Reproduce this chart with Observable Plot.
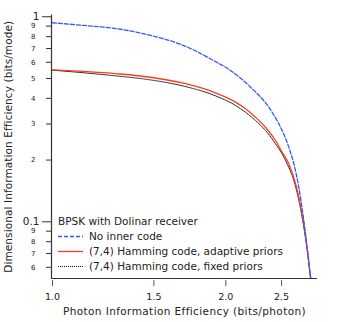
<!DOCTYPE html>
<html><head><meta charset="utf-8">
<script src="https://cdn.jsdelivr.net/npm/d3@7"></script>
<script src="https://cdn.jsdelivr.net/npm/@observablehq/plot@0.6"></script>
<style>body{margin:0;background:#fff} svg{display:block}</style>
</head><body><div id="chart"></div>
<script>
// Photon information efficiency (bits/photon) vs dimensional information efficiency (bits/mode)
const noCodeX   = [1.0, 1.133, 1.297, 1.48, 1.689, 1.904, 2.038, 2.208, 2.375, 2.472, 2.573, 2.625, 2.678, 2.732, 2.777, 2.807, 2.82];
const noCodeY   = [0.935, 0.907, 0.874, 0.811, 0.724, 0.612, 0.547, 0.4535, 0.3622, 0.3006, 0.2312, 0.1919, 0.1475, 0.1015, 0.0698, 0.0537, 0.05];
const adaptiveX = [1.0, 1.133, 1.296, 1.48, 1.689, 1.904, 2.079, 2.164, 2.252, 2.344, 2.44, 2.506, 2.573, 2.654, 2.726, 2.777, 2.807, 2.82];
const adaptiveY = [0.551, 0.541, 0.527, 0.507, 0.474, 0.429, 0.3833, 0.3557, 0.3237, 0.2893, 0.2492, 0.2185, 0.1919, 0.1475, 0.1015, 0.0698, 0.0537, 0.05];
const fixedX    = [1.0, 1.133, 1.296, 1.48, 1.689, 1.904, 2.079, 2.252, 2.344, 2.44, 2.54, 2.645, 2.72, 2.775, 2.807, 2.82];
const fixedY    = [0.549, 0.533, 0.514, 0.492, 0.459, 0.415, 0.3693, 0.3119, 0.2789, 0.2401, 0.1991, 0.1475, 0.1015, 0.0698, 0.0537, 0.05];

const xTicks = [1.0, 1.5, 2.0, 2.5];
const yMajorTicks = [1, 0.1];
const yMinorTicks = [0.9, 0.8, 0.7, 0.6, 0.5, 0.4, 0.3, 0.2, 0.09, 0.08, 0.07, 0.06];
const xDomain = [0.996, 2.886];
const yDomain = [0.0529, 1.02];

const legendTitle = "BPSK with Dolinar receiver";
const seriesNames = ["No inner code", "(7,4) Hamming code, adaptive priors", "(7,4) Hamming code, fixed priors"];
const seriesColors = ["#3557ff", "#ff3b1c", "#111111"];
const seriesDash = ["4,2", null, "1,1"];
const seriesWidth = [1.3, 1.3, 1];
const xTitle = "Photon Information Efficiency (bits/photon)";
const yTitle = "Dimensional Information Efficiency (bits/mode)";

const toRows = (xs, ys) => xs.map((x, i) => ({x, y: ys[i]}));
const series = [toRows(noCodeX, noCodeY), toRows(adaptiveX, adaptiveY), toRows(fixedX, fixedY)];
const minorLabel = d => String(Math.round(d * (d < 0.1 ? 100 : 10)));

const font = "DejaVu Sans, sans-serif";
const plot = Plot.plot({
  width: 347, height: 322,
  marginLeft: 51, marginRight: 30, marginTop: 14.5, marginBottom: 44,
  style: {fontFamily: font, color: "#222", background: "#fff"},
  x: {type: "log", domain: xDomain, axis: null},
  y: {type: "log", domain: yDomain, axis: null},
  marks: [
    Plot.ruleX([xDomain[0]], {stroke: "#333", strokeWidth: 1.2}),
    Plot.ruleY([yDomain[0]], {stroke: "#333", strokeWidth: 1.2}),
    // x ticks and labels
    Plot.ruleX(xTicks, {x: d => d, y1: yDomain[0], y2: yDomain[0], insetTop: 2, insetBottom: -8, stroke: "#555"}),
    Plot.text(xTicks, {x: d => d, text: d => d.toFixed(1), frameAnchor: "bottom", dy: 21, fontSize: 9.5, fill: "#222"}),
    // y ticks
    Plot.ruleY(yMajorTicks, {y: d => d, x1: xDomain[0], x2: xDomain[0], insetLeft: -9, stroke: "#333"}),
    Plot.ruleY(yMinorTicks, {y: d => d, x1: xDomain[0], x2: xDomain[0], insetLeft: -5, stroke: "#333"}),
    // y tick labels
    Plot.text(yMajorTicks, {y: d => d, text: d => String(d), frameAnchor: "left", dx: -12, textAnchor: "end", fontSize: 10.5, fill: "#222"}),
    Plot.text(yMinorTicks, {y: d => d, text: minorLabel, frameAnchor: "left", dx: -16, textAnchor: "end", fontSize: 7, fill: "#222"}),
    ...series.map((rows, i) => Plot.line(rows, {x: "x", y: "y", stroke: seriesColors[i], strokeWidth: seriesWidth[i], strokeDasharray: seriesDash[i], curve: "monotone-x", clip: true})).reverse(),
    Plot.text([xTitle], {frameAnchor: "bottom", dy: 36, fontSize: 10.5, fill: "#222", textAnchor: "middle"}),
    Plot.text([yTitle], {frameAnchor: "left", rotate: -90, dx: -43, fontSize: 10.5, fill: "#222", textAnchor: "middle"})
  ]
});

const svg = d3.select(plot);
svg.selectAll("text").filter(function() { return this.textContent === xTitle; }).attr("letter-spacing", 0.4);
svg.selectAll("text").filter(function() { return this.textContent === yTitle; }).attr("letter-spacing", 0.1);

// legend
const lg = svg.append("g").attr("font-family", font).attr("font-size", 10.5).attr("fill", "#222").attr("text-anchor", "start");
lg.append("text").attr("x", 58).attr("y", 221).attr("dy", "0.35em").attr("text-anchor", "start").text(legendTitle);
seriesNames.forEach((name, i) => {
  const y = 236.5 + i * 15;
  lg.append("line").attr("x1", 58).attr("x2", 83).attr("y1", y).attr("y2", y)
    .attr("stroke", seriesColors[i]).attr("stroke-width", seriesWidth[i])
    .attr("stroke-dasharray", seriesDash[i]);
  lg.append("text").attr("x", 89).attr("y", y).attr("dy", "0.35em").attr("text-anchor", "start").text(name);
});

document.getElementById("chart").appendChild(plot);
</script>
</body></html>
